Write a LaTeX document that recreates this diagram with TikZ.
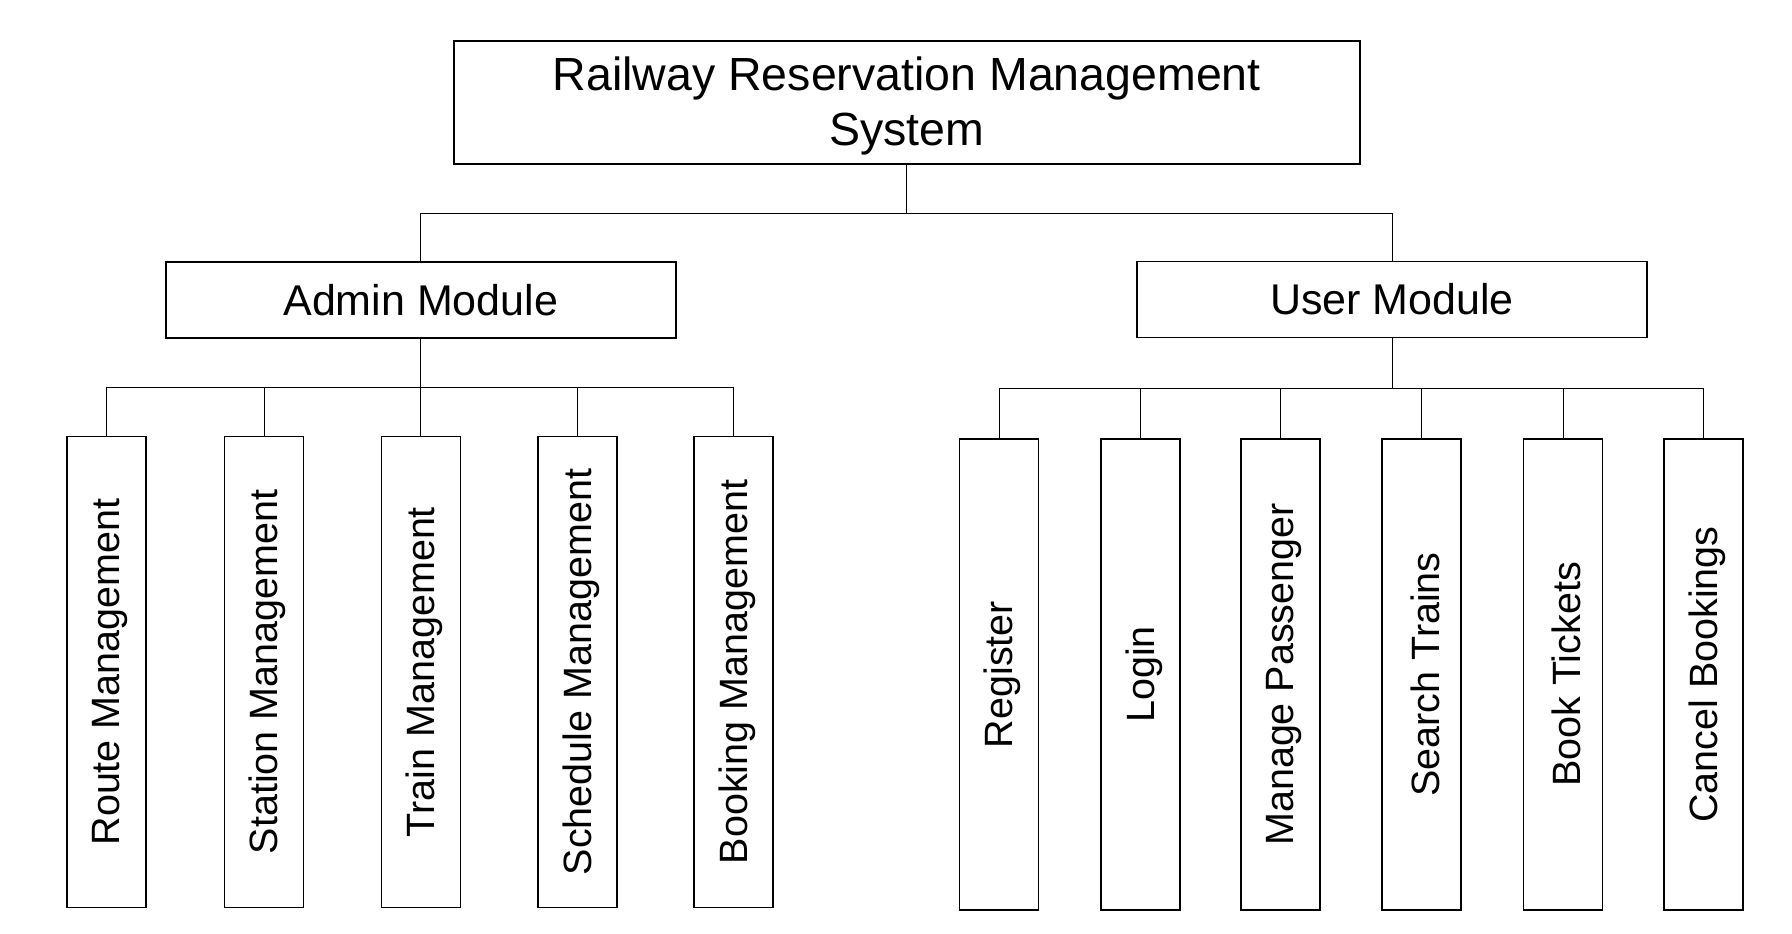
\documentclass[tikz,border=0pt]{standalone}
\usepackage{fontspec}
\usepackage{graphicx}
\setmainfont{Liberation Sans}
\tikzset{
  box/.style={draw, line width=1.6pt, inner sep=0pt, align=center},
  topbox/.style={box, minimum width=906pt, minimum height=123pt, font=\fontsize{46.5}{55}\selectfont},
  modbox/.style={box, minimum width=510pt, minimum height=76pt, font=\fontsize{43}{50}\selectfont},
  leafbox/.style={box, minimum width=79pt, minimum height=471pt, font=\fontsize{39.5}{46}\selectfont},
  conn/.style={draw, line width=1pt}
}
\newcommand{\vtext}[1]{\hspace*{7pt}\rotatebox{90}{#1}}
\begin{document}
\begin{tikzpicture}[x=1pt,y=-1pt]
\useasboundingbox (0,0) rectangle (1792,934);
\fill[white] (0,0) rectangle (1792,934);

\node[topbox] (top) at (906.8,102.5) {\raisebox{-4.5pt}[\height][\depth]{\begin{tabular}{@{}c@{}}Railway Reservation Management\\System\end{tabular}}};
\node[modbox] (admin) at (420.8,299.7) {Admin Module};
\node[modbox] (user) at (1392,299.4) {User Module};

% admin children
\node[leafbox] (a1) at (106.2,672) {\vtext{Route Management}};
\node[leafbox] (a2) at (264.1,672) {\vtext{Station Management}};
\node[leafbox] (a3) at (420.8,672) {\vtext{Train Management}};
\node[leafbox] (a4) at (577.5,672) {\vtext{Schedule Management}};
\node[leafbox] (a5) at (733.5,672) {\vtext{Booking Management}};

% user children
\node[leafbox] (u1) at (999,674.5) {\vtext{Register}};
\node[leafbox] (u2) at (1140.4,674.5) {\vtext{Login}};
\node[leafbox] (u3) at (1280.5,674.5) {\vtext{Manage Passenger}};
\node[leafbox] (u4) at (1421.7,674.5) {\vtext{Search Trains}};
\node[leafbox] (u5) at (1563,674.5) {\vtext{Book Tickets}};
\node[leafbox] (u6) at (1703.5,674.5) {\vtext{Cancel Bookings}};

% connectors
\coordinate (j0) at (906.8,213);
\coordinate (ja) at (420.8,387);
\coordinate (jb) at (1392,388);

\draw[conn] (top.south) -- (j0);
\draw[conn] (j0) -| (admin.north);
\draw[conn] (j0) -| (user.north);

\draw[conn] (admin.south) -- (ja);
\foreach \c in {a1,a2,a3,a4,a5} { \draw[conn] (ja) -| (\c.north); }

\draw[conn] (user.south) -- (jb);
\foreach \c in {u1,u2,u3,u4,u5,u6} { \draw[conn] (jb) -| (\c.north); }
\end{tikzpicture}
\end{document}
